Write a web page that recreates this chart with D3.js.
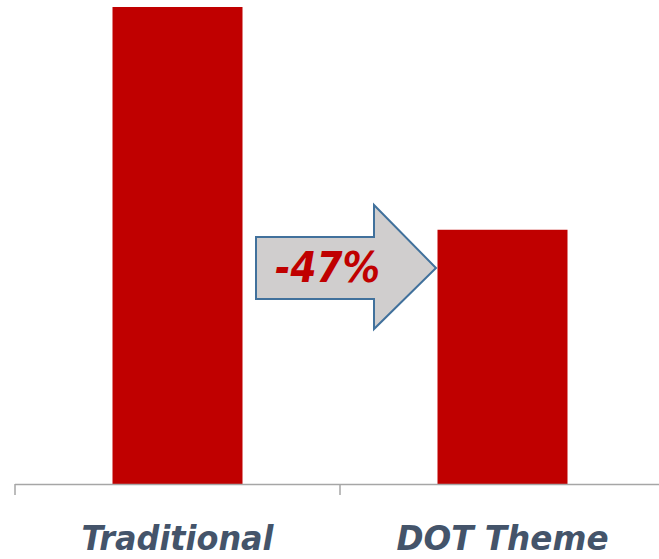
<!DOCTYPE html>
<html><head><meta charset="utf-8">
<script src="https://cdn.jsdelivr.net/npm/d3@7"></script>
<style>html,body{margin:0;padding:0;background:#fff;}svg{display:block;}</style>
</head><body>
<svg id="c" width="659" height="559"></svg>
<script>
const categories = ["Traditional", "DOT Theme"];
const values = [100, 53.3];
const changeLabel = "-47%";

const svg = d3.select("#c");
const x = d3.scaleBand().domain(categories).range([15, 665]).paddingInner(0.6).paddingOuter(0.3);
const y = d3.scaleLinear().domain([0, 100]).range([484, 7]);

svg.selectAll("rect.bar").data(categories).enter().append("rect")
  .attr("class", "bar")
  .attr("x", d => x(d))
  .attr("width", x.bandwidth())
  .attr("y", (d, i) => y(values[i]))
  .attr("height", (d, i) => y(0) - y(values[i]))
  .attr("fill", "#C00000");

// axis line and ticks
const axisG = svg.append("g");
axisG.append("line").attr("x1", 15).attr("x2", 665).attr("y1", y(0) + 0.5).attr("y2", y(0) + 0.5)
  .attr("stroke", "#A6A6A6").attr("stroke-width", 1.5);
const step = x.step();
[0, 1, 2].forEach(i => {
  const tx = 15 + i * step;
  axisG.append("line").attr("x1", tx).attr("x2", tx).attr("y1", y(0)).attr("y2", y(0) + 11)
    .attr("stroke", "#A6A6A6").attr("stroke-width", 1.5);
});

const labelWidths = [192, 212];
svg.selectAll("text.cat").data(categories).enter().append("text")
  .attr("class", "cat")
  .attr("x", d => x(d) + x.bandwidth() / 2)
  .attr("y", 550)
  .attr("text-anchor", "middle")
  .attr("font-family", "'Comic Sans MS', 'DejaVu Sans Condensed', 'DejaVu Sans', sans-serif")
  .attr("font-weight", "bold")
  .attr("font-style", "italic")
  .attr("font-size", 34)
  .attr("fill", "#44546A")
  .attr("textLength", (d, i) => labelWidths[i])
  .attr("lengthAdjust", "spacingAndGlyphs")
  .text(d => d);

// arrow annotation
const tipX = x(categories[1]) - 1.5;
const midY = 268;
const pts = [
  [256, midY - 31], [374, midY - 31], [374, midY - 63], [tipX, midY],
  [374, midY + 61], [374, midY + 31], [256, midY + 31]
];
svg.append("polygon")
  .attr("points", pts.map(p => p.join(",")).join(" "))
  .attr("fill", "#D0CECE")
  .attr("stroke", "#41719C")
  .attr("stroke-width", 2)
  .attr("stroke-linejoin", "miter");

svg.append("text")
  .attr("x", 275)
  .attr("y", 282)
  .attr("font-family", "'Comic Sans MS', 'DejaVu Sans Condensed', 'DejaVu Sans', sans-serif")
  .attr("font-weight", "bold")
  .attr("font-style", "italic")
  .attr("font-size", 42)
  .attr("fill", "#C00000")
  .attr("textLength", 105)
  .attr("lengthAdjust", "spacingAndGlyphs")
  .text(changeLabel);
</script>
</body></html>
